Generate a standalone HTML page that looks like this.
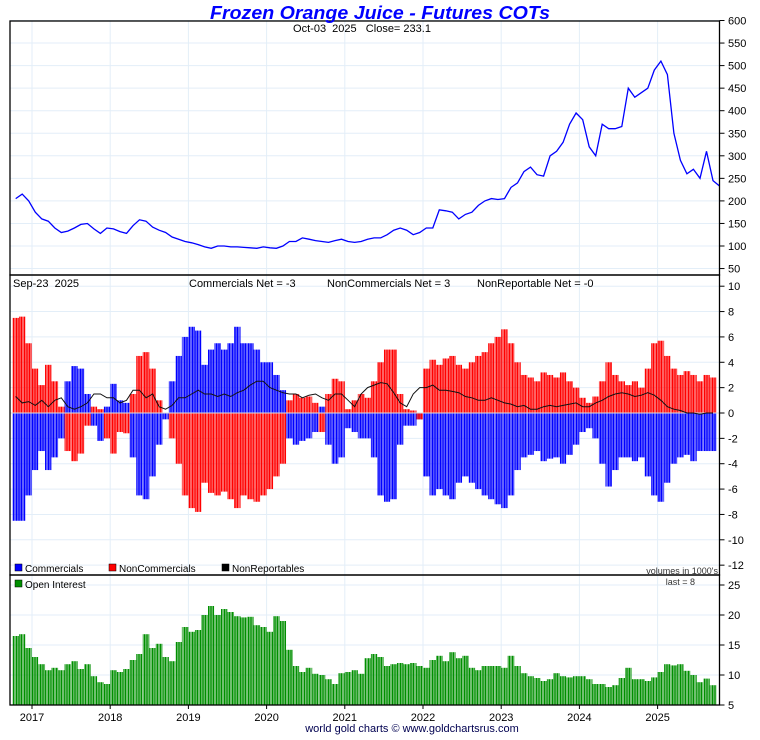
<!DOCTYPE html>
<html><head><meta charset="utf-8">
<style>
html,body{margin:0;padding:0;background:#fff;}
svg text{font-family:"Liberation Sans",sans-serif;white-space:pre;}
</style></head>
<body>
<svg id="chart" width="760" height="735" viewBox="0 0 760 735" xmlns="http://www.w3.org/2000/svg">
<defs>
<pattern id="pb" width="1.6" height="10" patternUnits="userSpaceOnUse"><rect width="1.25" height="10" fill="#0000ff"/></pattern>
<pattern id="pr" width="1.6" height="10" patternUnits="userSpaceOnUse"><rect width="1.25" height="10" fill="#ff0000"/></pattern>
<pattern id="pg" width="1.6" height="10" patternUnits="userSpaceOnUse"><rect width="1.2" height="10" fill="#008f00"/></pattern>
</defs>
<g id="grid"></g>
<g id="marks"></g>
<g id="axes"></g>
<text x="380" y="19" text-anchor="middle" font-size="18" font-weight="bold" font-style="italic" fill="#0000ff" textLength="340" lengthAdjust="spacingAndGlyphs">Frozen Orange Juice - Futures COTs</text>
<text x="362" y="32" text-anchor="middle" font-size="11" fill="#000">Oct-03&#160;&#160;2025&#160;&#160;&#160;Close= 233.1</text>
<text x="13" y="287" font-size="11">Sep-23&#160;&#160;2025</text>
<text x="189" y="287" font-size="11">Commercials Net = -3</text>
<text x="327" y="287" font-size="11">NonCommercials Net = 3</text>
<text x="477" y="287" font-size="11">NonReportable Net = -0</text>
<g>
<rect x="15" y="564" width="7" height="7" fill="#0000ff" stroke="#000" stroke-width="0.5"/>
<text x="25" y="572" font-size="10">Commercials</text>
<rect x="109" y="564" width="7" height="7" fill="#ff0000" stroke="#000" stroke-width="0.5"/>
<text x="119" y="572" font-size="10">NonCommercials</text>
<rect x="222" y="564" width="7" height="7" fill="#000" stroke="#000" stroke-width="0.5"/>
<text x="232" y="572" font-size="10">NonReportables</text>
<rect x="15" y="580" width="7" height="7" fill="#008f00" stroke="#000" stroke-width="0.5"/>
<text x="25" y="588" font-size="10">Open Interest</text>
</g>
<text x="718" y="574" text-anchor="end" font-size="9" fill="#333">volumes in 1000's</text>
<text x="695" y="585" text-anchor="end" font-size="9" fill="#333">last = 8</text>
<text x="412" y="732" text-anchor="middle" font-size="11" fill="#000050">world gold charts © www.goldchartsrus.com</text>
</svg>
<script>
const priceVals=[205,215,200,
175,160,155,140,130,133,140,148,150,138,128,140,
138,132,128,145,158,155,142,135,130,120,115,110,
107,103,98,95,100,100,98,98,97,96,95,98,
96,95,100,110,110,118,115,112,110,108,112,115,
110,108,110,115,118,118,125,135,140,135,125,130,
140,140,180,178,175,160,170,175,190,200,205,203,
205,230,240,265,275,258,255,300,310,330,370,395,
380,320,300,370,360,360,365,450,430,440,450,490,
510,480,350,290,260,270,250,310,245,233];
const commVals=[-8.5,-8.5,-6.5,
-4.5,-3,-4.5,-3.5,-2,2.5,3.7,3.5,1.5,-1,-2.2,0.5,
2.3,1.0,0.8,-3.5,-6.5,-6.8,-5,-2.5,-0.5,2.5,4.5,6.0,
6.8,6.5,3.8,5.0,5.5,5.0,5.5,6.8,5.5,5.5,5.0,4.0,
4.0,3.0,1.8,-2.0,-2.5,-2.2,-2.0,-1.5,0.5,-2.5,-4.0,-3.5,
-1.2,-1.5,-2.0,-2.0,-3.5,-6.5,-7.0,-6.8,-2.5,-1.0,-1.0,-0.5,
-5.0,-6.5,-6.0,-6.5,-6.8,-5.5,-5.0,-5.5,-6.0,-6.5,-6.8,-7.2,
-7.5,-6.5,-4.5,-3.5,-3.3,-3.0,-3.8,-3.6,-3.5,-4.0,-3.3,-2.5,
-1.5,-1.2,-2.0,-4.0,-5.8,-4.5,-3.5,-3.5,-3.8,-3.5,-5.0,-6.5,
-7.0,-5.5,-4.0,-3.5,-3.3,-3.8,-3.0,-3.0,-3.0];
const noncommVals=[7.5,7.6,5.5,
3.5,2.2,3.8,2.5,0.5,-3,-3.8,-3.2,-1,0.5,0.3,-2,
-3.2,-1.5,-1.6,1.5,4.5,4.8,3.5,1.0,0,-2,-4,-6.5,
-7.5,-7.8,-5.5,-6.3,-6.5,-6.2,-6.8,-7.5,-6.5,-6.8,-7,-6.5,
-6,-5,-4,1.0,1.5,1.2,1.3,0.8,-1.5,1.5,2.7,2.5,
0.3,1.0,1.5,1.2,2.5,4.0,5.0,5.0,1.5,0.3,0.2,-0.5,
3.5,4.2,3.8,4.3,4.5,3.8,3.5,4.0,4.5,4.8,5.5,6.0,
6.6,5.5,4.0,3.0,2.8,2.5,3.2,3.0,2.8,3.2,2.5,2.0,
1.2,0.8,1.3,2.5,4.0,3.0,2.5,2.2,2.5,2.0,3.5,5.5,
5.7,4.5,3.5,3.0,3.3,3.0,2.5,3.0,2.8];
const nonrepVals=[1.3,0.8,0.9,
0.6,1.0,0.5,1.0,1.2,0.5,0.3,0.5,0.8,1.5,1.5,1.2,
1.2,0.8,1.0,1.8,1.8,1.2,1.5,0.5,0.3,0.6,1.2,1.2,
1.5,1.8,1.5,1.5,1.3,1.5,1.3,1.6,1.8,2.2,2.5,2.5,
2.0,1.8,1.6,1.5,1.5,1.2,1.4,1.5,1.2,1.0,1.5,1.5,
1.0,0.5,1.5,2.0,2.2,2.4,2.3,1.6,0.8,0.5,1.5,2.0,
2.0,2.2,1.8,1.8,1.7,1.6,1.3,1.2,1.0,1.0,1.2,1.0,
0.8,0.7,0.5,0.6,0.3,0.3,0.5,0.6,0.5,0.6,0.7,0.8,
0.5,0.5,0.8,1.0,1.3,1.5,1.6,1.5,1.3,1.4,1.6,1.4,
1.0,0.5,0.3,0.2,0.0,0.0,-0.1,0.0,0.0];
const oiVals=[16.5,16.8,14.5,
13,11.8,10.8,11.2,10.8,11.8,12.3,11,11.8,9.8,8.8,8.5,
10.8,10.5,11,12.5,13.5,16.8,14.5,15.2,13,12.3,15.5,18,
17.2,17.5,20,21.5,20,21,20.5,19.8,19.6,19.7,18.3,18,
17.2,19.8,19,14.2,11.5,10.5,11.2,10.2,10,9.3,8.5,10.3,
10.5,10.8,10.2,12.8,13.5,13,11.5,11.8,12,11.8,12,11.5,
11.2,12.5,13.2,12.3,13.8,12.8,13.2,11.2,10.8,11.5,11.5,11.5,
11.2,13.2,11.5,10.3,9.8,9.5,9.0,9.3,10.3,9.8,9.6,9.8,
9.8,9.3,8.5,8.5,8.0,8.3,9.5,11.2,9.3,9.3,9.0,9.6,
10.5,11.8,11.6,11.8,10.7,10.0,8.8,9.4,8.3];
const yearLabels=["2017","2018","2019","2020","2021","2022","2023","2024","2025"];
const priceTicks=[600,550,500,450,400,350,300,250,200,150,100,50];
const cotTicks=[10,8,6,4,2,0,-2,-4,-6,-8,-10,-12];
const oiTicks=[25,20,15,10,5];

const NS="http://www.w3.org/2000/svg";
const L=10,R=719.5;
const P1=[21,275],P2=[275,575],P3=[575,705];
const startT=2016.75;
function xT(t){return 32+(t-2017)*78.2;}
function xM(i){return xT(startT+(i+0.5)/12);}
function yP(v){return 20.5+(600-v)*0.451;}
function yC(v){return 413-v*12.68;}
function yO(v){return 705-(v-5)*6;}
function mk(tag,attrs,parent){const e=document.createElementNS(NS,tag);for(const k in attrs)e.setAttribute(k,attrs[k]);parent.appendChild(e);return e;}
const grid=document.getElementById('grid'),marks=document.getElementById('marks'),axes=document.getElementById('axes');
const gc="#e3eef8";
yearLabels.forEach(function(lab){
  const x=xT(+lab);
  const g=mk('line',{x1:x,x2:x,y1:21,y2:705,stroke:gc,'stroke-width':1},grid);
  
  
  const tk=mk('line',{x1:x,x2:x,y1:705,y2:709,stroke:'#000','stroke-width':1},axes);
  
  
  const t=mk('text',{x:x,y:721,'text-anchor':'middle','font-size':11},axes);
  t.textContent=lab;
  
  
});
function yAxis(ticks,fy,gridOn){
  ticks.forEach(function(v){
    const y=fy(v);
    if(gridOn){
      const g=mk('line',{x1:L,x2:R,y1:y,y2:y,stroke:gc,'stroke-width':1},grid);
      
      
    }
    const tk=mk('line',{x1:R,x2:R+5,y1:y,y2:y,stroke:'#000','stroke-width':1},axes);
    
    
    const t=mk('text',{x:728,y:y+4,'font-size':11},axes);
    t.textContent=String(v);
    
    
  });
}
yAxis(priceTicks,yP,true);
yAxis(cotTicks,yC,true);
yAxis(oiTicks,yO,true);
let d='';
priceVals.forEach(function(v,i){d+=(i?'L':'M')+xM(i).toFixed(1)+' '+yP(v).toFixed(1);});
const pl=mk('path',{d:d,fill:'none',stroke:'#0000ff','stroke-width':1.3},marks);


const bw=78.2/12;
function bar(v,fy,base,fill,name){
  const y0=fy(base),y1=fy(v);
  const r=mk('rect',{x:0,y:Math.min(y0,y1),width:bw,height:Math.abs(y1-y0),fill:fill},marks);
  
  
  return r;
}
commVals.forEach(function(v,i){const r=bar(v,yC,0,'url(#pb)','commercials-bar');r.setAttribute('x',(xM(i)-bw/2).toFixed(2));});
noncommVals.forEach(function(v,i){const r=bar(v,yC,0,'url(#pr)','noncommercials-bar');r.setAttribute('x',(xM(i)-bw/2).toFixed(2));});
oiVals.forEach(function(v,i){const r=bar(v,yO,5,'url(#pg)','open-interest-bar');r.setAttribute('x',(xM(i)-bw/2).toFixed(2));});
const zl=mk('line',{x1:L,x2:R,y1:yC(0),y2:yC(0),stroke:'#ddd','stroke-width':1},marks);


let d2='';
nonrepVals.forEach(function(v,i){d2+=(i?'L':'M')+xM(i).toFixed(1)+' '+yC(v).toFixed(1);});
const nl=mk('path',{d:d2,fill:'none',stroke:'#111','stroke-width':1},marks);


[[P1[0],P1[1]],[P2[0],P2[1]],[P3[0],P3[1]]].forEach(function(p){
  const r=mk('rect',{x:L,y:p[0],width:R-L,height:p[1]-p[0],fill:'none',stroke:'#000','stroke-width':1.3},axes);
  
  
});
</script>
</body></html>
